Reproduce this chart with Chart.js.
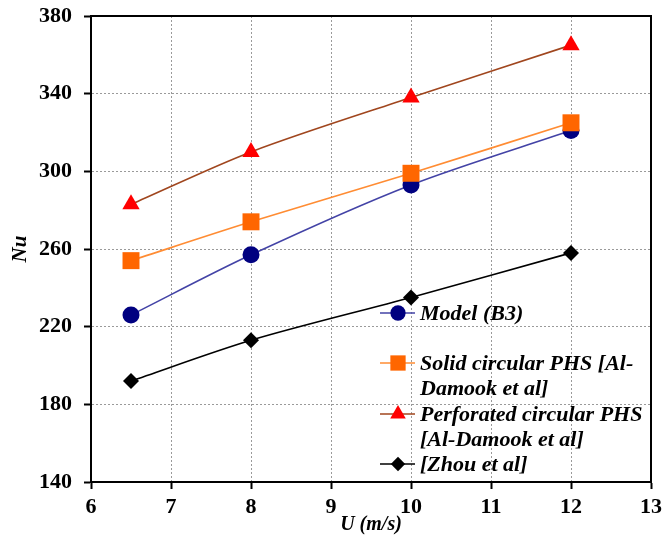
<!DOCTYPE html>
<html>
<head>
<meta charset="utf-8">
<script src="https://cdn.jsdelivr.net/npm/chart.js@4/dist/chart.umd.min.js"></script>
<style>
  html, body { margin: 0; padding: 0; background: #fff; }
  #wrap { width: 663px; height: 540px; position: relative; }
</style>
</head>
<body>
<div id="wrap"><canvas id="c" width="663" height="540"></canvas></div>
<script>
// Air velocity U (m/s)
const velocities = [6.5, 8, 10, 12];

// Nusselt number for each configuration
const nuModel = [226, 257, 293, 321];
const nuSolid = [254, 274, 299, 325];
const nuPerforated = [283, 310, 338, 365];
const nuZhou = [192, 213, 235, 258];

const seriesNames = [
  "Model (B3)",
  "Solid circular PHS [Al-Damook et al]",
  "Perforated circular PHS [Al-Damook et al]",
  "[Zhou et al]"
];
// Legend entries broken over lines
const legendLines = [
  ["Model (B3)"],
  ["Solid circular PHS [Al-", "Damook et al]"],
  ["Perforated circular PHS", "[Al-Damook et al]"],
  ["[Zhou et al]"]
];

const xTitle = "U (m/s)";
const yTitle = "Nu";

const SERIF = "'Liberation Serif', 'Times New Roman', serif";

function pts(vals) {
  return velocities.map((u, i) => ({ x: u, y: vals[i] }));
}

const styles = [
  { line: '#4343A6', fill: '#000080', shape: 'circle', r: 8.5 },
  { line: '#FF8C33', fill: '#FF6600', shape: 'rect', r: 12 },
  { line: '#A0461E', fill: '#FF0000', shape: 'triangle', r: 10 },
  { line: '#000000', fill: '#000000', shape: 'rectRot', r: 8 }
];
const seriesValues = [nuModel, nuSolid, nuPerforated, nuZhou];
const drawOrder = [1, 0, 2, 3];

const datasets = seriesValues.map((vals, i) => ({
  label: seriesNames[i],
  data: pts(vals),
  borderColor: styles[i].line,
  borderWidth: 1.6,
  backgroundColor: styles[i].fill,
  pointBackgroundColor: styles[i].fill,
  pointBorderColor: styles[i].fill,
  pointBorderWidth: 0,
  pointStyle: styles[i].shape,
  pointRadius: styles[i].r,
  pointHoverRadius: styles[i].r,
  tension: 0.3,
  fill: false,
  order: drawOrder[i]
}));

function drawMarker(ctx, shape, x, y, r, color) {
  ctx.save();
  ctx.fillStyle = color;
  ctx.beginPath();
  if (shape === 'circle') {
    ctx.arc(x, y, r, 0, Math.PI * 2);
  } else if (shape === 'rect') {
    const s = r * Math.SQRT1_2;
    ctx.rect(x - s, y - s, 2 * s, 2 * s);
  } else if (shape === 'triangle') {
    const h = r;
    ctx.moveTo(x, y - h);
    ctx.lineTo(x + h * Math.sin(Math.PI / 3), y + h * 0.5);
    ctx.lineTo(x - h * Math.sin(Math.PI / 3), y + h * 0.5);
    ctx.closePath();
  } else if (shape === 'rectRot') {
    ctx.moveTo(x, y - r);
    ctx.lineTo(x + r, y);
    ctx.lineTo(x, y + r);
    ctx.lineTo(x - r, y);
    ctx.closePath();
  }
  ctx.fill();
  ctx.restore();
}

// Frame around the plot area plus the in-plot legend
const framePlugin = {
  id: 'frameAndLegend',
  afterDraw(chart) {
    const { ctx, chartArea: a } = chart;
    ctx.save();
    ctx.setLineDash([]);
    ctx.strokeStyle = '#000';
    ctx.lineWidth = 2;
    ctx.strokeRect(a.left, a.top, a.right - a.left, a.bottom - a.top);

    // legend
    const rowY = [313, 363, 414, 464];
    const lineGap = 25;
    const x0 = a.left + 289, x1 = a.left + 324, mx = a.left + 307, tx = a.left + 329;
    ctx.font = "italic bold 22px " + SERIF;
    ctx.textBaseline = 'middle';
    ctx.textAlign = 'left';
    datasets.forEach((ds, i) => {
      const y = rowY[i];
      ctx.strokeStyle = styles[i].line;
      ctx.lineWidth = 1.6;
      ctx.beginPath();
      ctx.moveTo(x0, y);
      ctx.lineTo(x1, y);
      ctx.stroke();
      drawMarker(ctx, styles[i].shape, mx, y, styles[i].r * 0.9, styles[i].fill);
      ctx.fillStyle = '#000';
      legendLines[i].forEach((t, k) => ctx.fillText(t, tx, y + k * lineGap + 1));
    });
    ctx.restore();
  }
};

const gridOpts = {
  color: '#9a9a9a',
  lineWidth: 1,
  drawTicks: true,
  tickLength: 7,
  tickColor: '#000',
  tickWidth: 2,
  tickBorderDash: []
};

new Chart(document.getElementById('c'), {
  type: 'line',
  data: { datasets },
  options: {
    responsive: false,
    animation: false,
    devicePixelRatio: 1,
    layout: { padding: { top: 16, right: 12, left: 0, bottom: 0 } },
    plugins: {
      legend: { display: false },
      tooltip: { enabled: false }
    },
    scales: {
      x: {
        type: 'linear',
        min: 6, max: 13,
        ticks: {
          stepSize: 1,
          color: '#000',
          padding: 5,
          font: { family: SERIF, size: 22, weight: 'bold' }
        },
        grid: gridOpts,
        border: { display: true, color: '#000', width: 2, dash: [2, 2] },
        title: {
          display: true,
          text: xTitle,
          color: '#000',
          font: { family: SERIF, size: 20, weight: 'bold', style: 'italic' },
          padding: { top: 0, bottom: 3 }
        },
        afterFit(scale) {
          scale.height = 58;
          scale.paddingLeft = 0;
          scale.paddingRight = 0;
        }
      },
      y: {
        type: 'linear',
        min: 140, max: 380,
        ticks: {
          stepSize: 40,
          color: '#000',
          padding: 12,
          font: { family: SERIF, size: 22, weight: 'bold' }
        },
        grid: gridOpts,
        border: { display: true, color: '#000', width: 2, dash: [2, 2] },
        title: {
          display: true,
          text: yTitle,
          color: '#000',
          font: { family: SERIF, size: 21, weight: 'bold', style: 'italic' },
          padding: { top: 8, bottom: 0 }
        },
        afterFit(scale) {
          scale.width = 91;
          scale.paddingTop = 0;
          scale.paddingBottom = 0;
        }
      }
    }
  },
  plugins: [framePlugin]
});
</script>
</body>
</html>
